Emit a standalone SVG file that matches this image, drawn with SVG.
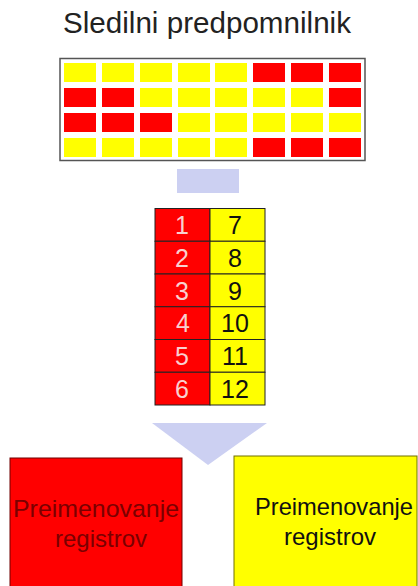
<svg xmlns="http://www.w3.org/2000/svg" width="418" height="586" viewBox="0 0 418 586">
<style>
text{font-family:"Liberation Sans",Arial,sans-serif}
.y{fill:#ffff00}
.r{fill:#ff0000}
.num{font-size:25px;text-anchor:middle}
.nr{fill:#f8d0d0}
.ny{fill:#111}
.cell{stroke:#222;stroke-width:1}
.lbl{font-size:24px;text-anchor:middle}
.arrow{fill:#ccd0f2}
</style>
<rect width="418" height="586" fill="#ffffff"/>
<g id="title">
<text x="207" y="33" font-size="29" text-anchor="middle" fill="#222" textLength="288" lengthAdjust="spacingAndGlyphs">Sledilni predpomnilnik</text>
</g>
<g id="cache">
<rect x="60" y="58.5" width="305" height="102" fill="#ffffff" stroke="#555" stroke-width="1.5"/>
<g>
<rect class="y" x="64" y="63" width="32" height="19"/><rect class="y" x="102" y="63" width="32" height="19"/><rect class="y" x="140" y="63" width="32" height="19"/><rect class="y" x="178" y="63" width="32" height="19"/><rect class="y" x="215" y="63" width="32" height="19"/><rect class="r" x="253" y="63" width="32" height="19"/><rect class="r" x="291" y="63" width="32" height="19"/><rect class="r" x="329" y="63" width="32" height="19"/>
<rect class="r" x="64" y="88" width="32" height="19"/><rect class="r" x="102" y="88" width="32" height="19"/><rect class="y" x="140" y="88" width="32" height="19"/><rect class="y" x="178" y="88" width="32" height="19"/><rect class="y" x="215" y="88" width="32" height="19"/><rect class="y" x="253" y="88" width="32" height="19"/><rect class="y" x="291" y="88" width="32" height="19"/><rect class="r" x="329" y="88" width="32" height="19"/>
<rect class="r" x="64" y="113" width="32" height="19"/><rect class="r" x="102" y="113" width="32" height="19"/><rect class="r" x="140" y="113" width="32" height="19"/><rect class="y" x="178" y="113" width="32" height="19"/><rect class="y" x="215" y="113" width="32" height="19"/><rect class="y" x="253" y="113" width="32" height="19"/><rect class="y" x="291" y="113" width="32" height="19"/><rect class="y" x="329" y="113" width="32" height="19"/>
<rect class="y" x="64" y="138" width="32" height="19"/><rect class="y" x="102" y="138" width="32" height="19"/><rect class="y" x="140" y="138" width="32" height="19"/><rect class="y" x="178" y="138" width="32" height="19"/><rect class="y" x="215" y="138" width="32" height="19"/><rect class="r" x="253" y="138" width="32" height="19"/><rect class="r" x="291" y="138" width="32" height="19"/><rect class="r" x="329" y="138" width="32" height="19"/>
</g>
</g>
<g id="connectors">
<rect class="arrow" x="177" y="169" width="62" height="24"/>
<polygon class="arrow" points="152,423 267,423 208,465"/>
</g>
<g id="table">
<rect class="r cell" x="155" y="208.5" width="55" height="32.75"/><rect class="y cell" x="210" y="208.5" width="55" height="32.75"/>
<rect class="r cell" x="155" y="241.25" width="55" height="32.75"/><rect class="y cell" x="210" y="241.25" width="55" height="32.75"/>
<rect class="r cell" x="155" y="274" width="55" height="32.75"/><rect class="y cell" x="210" y="274" width="55" height="32.75"/>
<rect class="r cell" x="155" y="306.75" width="55" height="32.75"/><rect class="y cell" x="210" y="306.75" width="55" height="32.75"/>
<rect class="r cell" x="155" y="339.5" width="55" height="32.75"/><rect class="y cell" x="210" y="339.5" width="55" height="32.75"/>
<rect class="r cell" x="155" y="372.25" width="55" height="32.75"/><rect class="y cell" x="210" y="372.25" width="55" height="32.75"/>
<text class="num nr" x="182" y="234">1</text><text class="num ny" x="235" y="234">7</text>
<text class="num nr" x="182" y="267">2</text><text class="num ny" x="235" y="267">8</text>
<text class="num nr" x="182" y="299.5">3</text><text class="num ny" x="235" y="299.5">9</text>
<text class="num nr" x="183" y="332">4</text><text class="num ny" x="235" y="332">10</text>
<text class="num nr" x="182" y="365">5</text><text class="num ny" x="235" y="365">11</text>
<text class="num nr" x="182" y="398">6</text><text class="num ny" x="235" y="398">12</text>
</g>
<g id="rename-red">
<rect x="10" y="458" width="172" height="140" fill="#ff0000" stroke="#700000" stroke-width="1"/>
<text class="lbl" x="96" y="517" fill="#7a0000" textLength="166" lengthAdjust="spacingAndGlyphs">Preimenovanje</text>
<text class="lbl" x="101" y="547" fill="#7a0000">registrov</text>
</g>
<g id="rename-yellow">
<rect x="234" y="456" width="183" height="142" fill="#ffff00" stroke="#707000" stroke-width="1"/>
<text class="lbl" x="334" y="515" fill="#111" textLength="158" lengthAdjust="spacingAndGlyphs">Preimenovanje</text>
<text class="lbl" x="330" y="545" fill="#111">registrov</text>
</g>
</svg>
